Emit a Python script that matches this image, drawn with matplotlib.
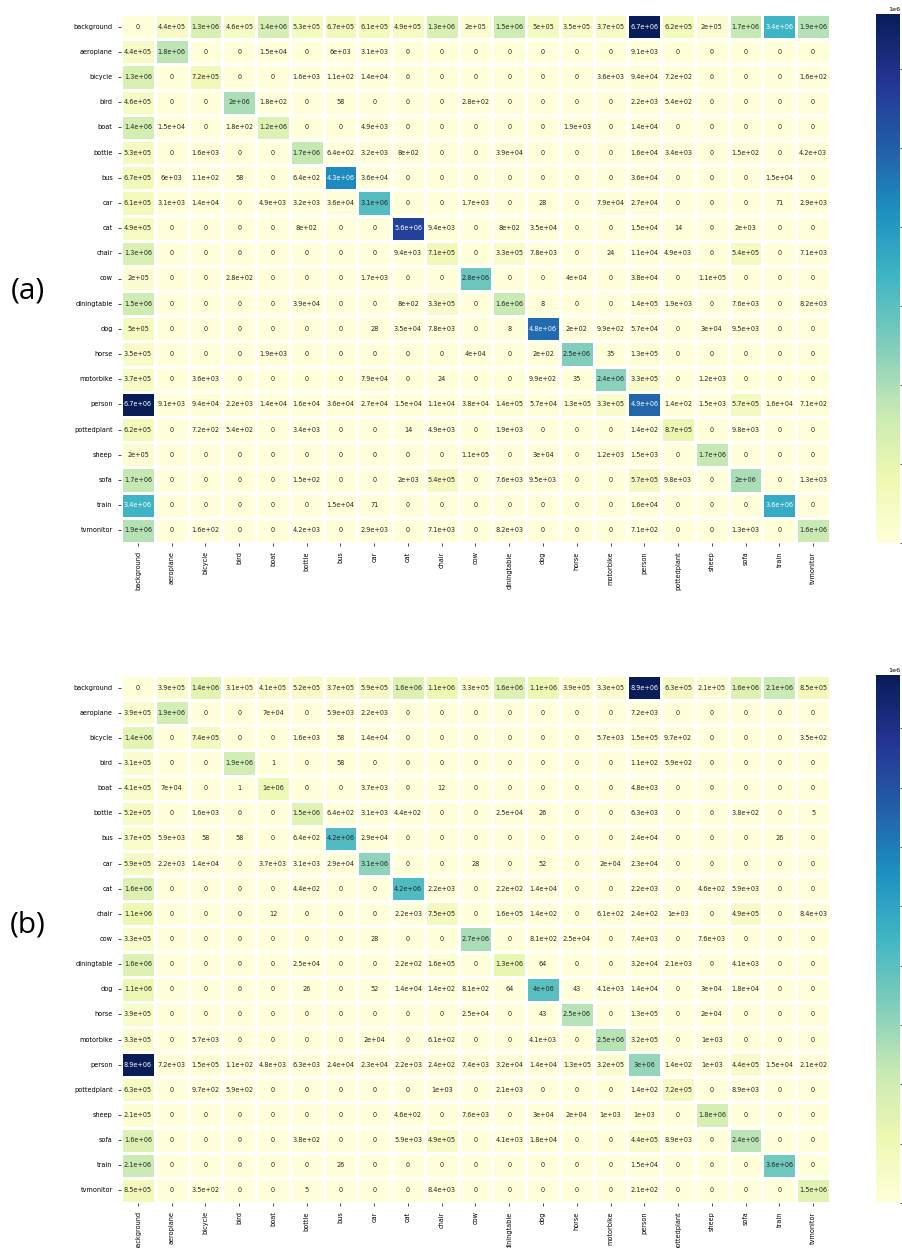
import matplotlib
matplotlib.use("Agg")
import matplotlib.pyplot as plt
import numpy as np
import seaborn as sns

classes = ["background", "aeroplane", "bicycle", "bird", "boat", "bottle", "bus",
           "car", "cat", "chair", "cow", "diningtable", "dog", "horse", "motorbike",
           "person", "pottedplant", "sheep", "sofa", "train", "tvmonitor"]

# confusion matrix (a): rows = ground truth, cols = prediction
conf_a = [
    [0, 4.4e5, 1.3e6, 4.6e5, 1.4e6, 5.3e5, 6.7e5, 6.1e5, 4.9e5, 1.3e6, 2e5, 1.5e6, 5e5, 3.5e5, 3.7e5, 6.7e6, 6.2e5, 2e5, 1.7e6, 3.4e6, 1.9e6],
    [4.4e5, 1.8e6, 0, 0, 1.5e4, 0, 6e3, 3.1e3, 0, 0, 0, 0, 0, 0, 0, 9.1e3, 0, 0, 0, 0, 0],
    [1.3e6, 0, 7.2e5, 0, 0, 1.6e3, 1.1e2, 1.4e4, 0, 0, 0, 0, 0, 0, 3.6e3, 9.4e4, 7.2e2, 0, 0, 0, 1.6e2],
    [4.6e5, 0, 0, 2e6, 1.8e2, 0, 58, 0, 0, 0, 2.8e2, 0, 0, 0, 0, 2.2e3, 5.4e2, 0, 0, 0, 0],
    [1.4e6, 1.5e4, 0, 1.8e2, 1.2e6, 0, 0, 4.9e3, 0, 0, 0, 0, 0, 1.9e3, 0, 1.4e4, 0, 0, 0, 0, 0],
    [5.3e5, 0, 1.6e3, 0, 0, 1.7e6, 6.4e2, 3.2e3, 8e2, 0, 0, 3.9e4, 0, 0, 0, 1.6e4, 3.4e3, 0, 1.5e2, 0, 4.2e3],
    [6.7e5, 6e3, 1.1e2, 58, 0, 6.4e2, 4.3e6, 3.6e4, 0, 0, 0, 0, 0, 0, 0, 3.6e4, 0, 0, 0, 1.5e4, 0],
    [6.1e5, 3.1e3, 1.4e4, 0, 4.9e3, 3.2e3, 3.6e4, 3.1e6, 0, 0, 1.7e3, 0, 28, 0, 7.9e4, 2.7e4, 0, 0, 0, 71, 2.9e3],
    [4.9e5, 0, 0, 0, 0, 8e2, 0, 0, 5.6e6, 9.4e3, 0, 8e2, 3.5e4, 0, 0, 1.5e4, 14, 0, 2e3, 0, 0],
    [1.3e6, 0, 0, 0, 0, 0, 0, 0, 9.4e3, 7.1e5, 0, 3.3e5, 7.8e3, 0, 24, 1.1e4, 4.9e3, 0, 5.4e5, 0, 7.1e3],
    [2e5, 0, 0, 2.8e2, 0, 0, 0, 1.7e3, 0, 0, 2.8e6, 0, 0, 4e4, 0, 3.8e4, 0, 1.1e5, 0, 0, 0],
    [1.5e6, 0, 0, 0, 0, 3.9e4, 0, 0, 8e2, 3.3e5, 0, 1.6e6, 8, 0, 0, 1.4e5, 1.9e3, 0, 7.6e3, 0, 8.2e3],
    [5e5, 0, 0, 0, 0, 0, 0, 28, 3.5e4, 7.8e3, 0, 8, 4.8e6, 2e2, 9.9e2, 5.7e4, 0, 3e4, 9.5e3, 0, 0],
    [3.5e5, 0, 0, 0, 1.9e3, 0, 0, 0, 0, 0, 4e4, 0, 2e2, 2.5e6, 35, 1.3e5, 0, 0, 0, 0, 0],
    [3.7e5, 0, 3.6e3, 0, 0, 0, 0, 7.9e4, 0, 24, 0, 0, 9.9e2, 35, 2.4e6, 3.3e5, 0, 1.2e3, 0, 0, 0],
    [6.7e6, 9.1e3, 9.4e4, 2.2e3, 1.4e4, 1.6e4, 3.6e4, 2.7e4, 1.5e4, 1.1e4, 3.8e4, 1.4e5, 5.7e4, 1.3e5, 3.3e5, 4.9e6, 1.4e2, 1.5e3, 5.7e5, 1.6e4, 7.1e2],
    [6.2e5, 0, 7.2e2, 5.4e2, 0, 3.4e3, 0, 0, 14, 4.9e3, 0, 1.9e3, 0, 0, 0, 1.4e2, 8.7e5, 0, 9.8e3, 0, 0],
    [2e5, 0, 0, 0, 0, 0, 0, 0, 0, 0, 1.1e5, 0, 3e4, 0, 1.2e3, 1.5e3, 0, 1.7e6, 0, 0, 0],
    [1.7e6, 0, 0, 0, 0, 1.5e2, 0, 0, 2e3, 5.4e5, 0, 7.6e3, 9.5e3, 0, 0, 5.7e5, 9.8e3, 0, 2e6, 0, 1.3e3],
    [3.4e6, 0, 0, 0, 0, 0, 1.5e4, 71, 0, 0, 0, 0, 0, 0, 0, 1.6e4, 0, 0, 0, 3.6e6, 0],
    [1.9e6, 0, 1.6e2, 0, 0, 4.2e3, 0, 2.9e3, 0, 7.1e3, 0, 8.2e3, 0, 0, 0, 7.1e2, 0, 0, 1.3e3, 0, 1.6e6],
]

# confusion matrix (b)
conf_b = [
    [0, 3.9e5, 1.4e6, 3.1e5, 4.1e5, 5.2e5, 3.7e5, 5.9e5, 1.6e6, 1.1e6, 3.3e5, 1.6e6, 1.1e6, 3.9e5, 3.3e5, 8.9e6, 6.3e5, 2.1e5, 1.6e6, 2.1e6, 8.5e5],
    [3.9e5, 1.9e6, 0, 0, 7e4, 0, 5.9e3, 2.2e3, 0, 0, 0, 0, 0, 0, 0, 7.2e3, 0, 0, 0, 0, 0],
    [1.4e6, 0, 7.4e5, 0, 0, 1.6e3, 58, 1.4e4, 0, 0, 0, 0, 0, 0, 5.7e3, 1.5e5, 9.7e2, 0, 0, 0, 3.5e2],
    [3.1e5, 0, 0, 1.9e6, 1, 0, 58, 0, 0, 0, 0, 0, 0, 0, 0, 1.1e2, 5.9e2, 0, 0, 0, 0],
    [4.1e5, 7e4, 0, 1, 1e6, 0, 0, 3.7e3, 0, 12, 0, 0, 0, 0, 0, 4.8e3, 0, 0, 0, 0, 0],
    [5.2e5, 0, 1.6e3, 0, 0, 1.5e6, 6.4e2, 3.1e3, 4.4e2, 0, 0, 2.5e4, 26, 0, 0, 6.3e3, 0, 0, 3.8e2, 0, 5],
    [3.7e5, 5.9e3, 58, 58, 0, 6.4e2, 4.2e6, 2.9e4, 0, 0, 0, 0, 0, 0, 0, 2.4e4, 0, 0, 0, 26, 0],
    [5.9e5, 2.2e3, 1.4e4, 0, 3.7e3, 3.1e3, 2.9e4, 3.1e6, 0, 0, 28, 0, 52, 0, 2e4, 2.3e4, 0, 0, 0, 0, 0],
    [1.6e6, 0, 0, 0, 0, 4.4e2, 0, 0, 4.2e6, 2.2e3, 0, 2.2e2, 1.4e4, 0, 0, 2.2e3, 0, 4.6e2, 5.9e3, 0, 0],
    [1.1e6, 0, 0, 0, 12, 0, 0, 0, 2.2e3, 7.5e5, 0, 1.6e5, 1.4e2, 0, 6.1e2, 2.4e2, 1e3, 0, 4.9e5, 0, 8.4e3],
    [3.3e5, 0, 0, 0, 0, 0, 0, 28, 0, 0, 2.7e6, 0, 8.1e2, 2.5e4, 0, 7.4e3, 0, 7.6e3, 0, 0, 0],
    [1.6e6, 0, 0, 0, 0, 2.5e4, 0, 0, 2.2e2, 1.6e5, 0, 1.3e6, 64, 0, 0, 3.2e4, 2.1e3, 0, 4.1e3, 0, 0],
    [1.1e6, 0, 0, 0, 0, 26, 0, 52, 1.4e4, 1.4e2, 8.1e2, 64, 4e6, 43, 4.1e3, 1.4e4, 0, 3e4, 1.8e4, 0, 0],
    [3.9e5, 0, 0, 0, 0, 0, 0, 0, 0, 0, 2.5e4, 0, 43, 2.5e6, 0, 1.3e5, 0, 2e4, 0, 0, 0],
    [3.3e5, 0, 5.7e3, 0, 0, 0, 0, 2e4, 0, 6.1e2, 0, 0, 4.1e3, 0, 2.5e6, 3.2e5, 0, 1e3, 0, 0, 0],
    [8.9e6, 7.2e3, 1.5e5, 1.1e2, 4.8e3, 6.3e3, 2.4e4, 2.3e4, 2.2e3, 2.4e2, 7.4e3, 3.2e4, 1.4e4, 1.3e5, 3.2e5, 3e6, 1.4e2, 1e3, 4.4e5, 1.5e4, 2.1e2],
    [6.3e5, 0, 9.7e2, 5.9e2, 0, 0, 0, 0, 0, 1e3, 0, 2.1e3, 0, 0, 0, 1.4e2, 7.2e5, 0, 8.9e3, 0, 0],
    [2.1e5, 0, 0, 0, 0, 0, 0, 0, 4.6e2, 0, 7.6e3, 0, 3e4, 2e4, 1e3, 1e3, 0, 1.8e6, 0, 0, 0],
    [1.6e6, 0, 0, 0, 0, 3.8e2, 0, 0, 5.9e3, 4.9e5, 0, 4.1e3, 1.8e4, 0, 0, 4.4e5, 8.9e3, 0, 2.4e6, 0, 0],
    [2.1e6, 0, 0, 0, 0, 0, 26, 0, 0, 0, 0, 0, 0, 0, 0, 1.5e4, 0, 0, 0, 3.6e6, 0],
    [8.5e5, 0, 3.5e2, 0, 0, 5, 0, 0, 0, 8.4e3, 0, 0, 0, 0, 0, 2.1e2, 0, 0, 0, 0, 1.5e6],
]

W, H = 903, 1248
fig = plt.figure(figsize=(W / 100, H / 100), dpi=100)

# (tag, matrix, axes top px, axes bottom px, tag y px)
panels = [("(a)", conf_a, 14, 543, 291), ("(b)", conf_b, 675, 1203, 925)]
for tag, mat, top, bot, tag_y in panels:
    ax = fig.add_axes([121 / W, 1 - bot / H, 709 / W, (bot - top) / H])
    cax = fig.add_axes([876 / W, 1 - bot / H, 24 / W, (bot - top) / H])
    sns.heatmap(np.array(mat), ax=ax, cbar_ax=cax, cmap="YlGnBu", annot=True, fmt=".2g",
                linewidths=0.8, linecolor="white", annot_kws={"fontsize": 4.7},
                xticklabels=classes, yticklabels=classes)
    ax.tick_params(labelsize=4.7, length=2.5, width=0.5)
    plt.setp(ax.get_xticklabels(), rotation=90)
    plt.setp(ax.get_yticklabels(), rotation=0)
    # colorbar: tick marks only, with the scale factor above the bar
    cax.tick_params(labelright=False, length=3, width=0.5)
    cax.text(1.0, 1.004, "1e6", transform=cax.transAxes, ha="right", va="bottom",
             fontsize=4.6)
    fig.text(28 / W, 1 - tag_y / H, tag, fontsize=21.5,
             family=["Open Sans", "DejaVu Sans"], ha="center", va="center")

fig.savefig("out.png", dpi=100)
